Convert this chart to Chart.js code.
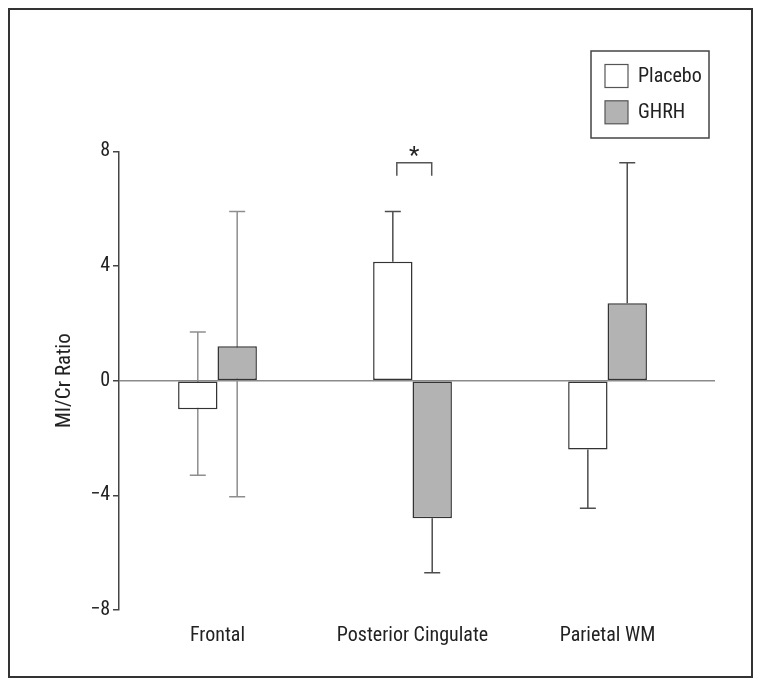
<!DOCTYPE html>
<html>
<head>
<meta charset="utf-8">
<script src="https://cdn.jsdelivr.net/npm/chart.js@4.4.1/dist/chart.umd.min.js"></script>
<style>
  html, body { margin: 0; padding: 0; background: #ffffff; }
  canvas { display: block; }
</style>
</head>
<body>
<canvas id="c" width="762" height="687"></canvas>
<script>
// ---- data ----
const categories = ['Frontal', 'Posterior Cingulate', 'Parietal WM'];
const seriesNames = ['Placebo', 'GHRH'];
const placeboMean = [-1.0, 4.15, -2.4];
const ghrhMean = [1.2, -4.8, 2.7];
// whisker ends (null = no whisker on that side)
const placeboErrHigh = [1.7, 5.9, null];
const placeboErrLow = [-3.3, null, -4.45];
const ghrhErrHigh = [5.9, null, 7.6];
const ghrhErrLow = [-4.05, -6.7, null];
const yTicks = [-8, -4, 0, 4, 8];
// significance bracket between the two Posterior Cingulate bars
const sigLabel = '*';
const sigCategory = 2;

const FONT = "'Liberation Sans Narrow', 'Roboto Condensed', 'Arial Narrow', 'Liberation Sans', sans-serif";
const TEXT = '#222222';
const fills = ['#ffffff', '#b3b3b3'];
const errHigh = [placeboErrHigh, ghrhErrHigh];
const errLow = [placeboErrLow, ghrhErrLow];

function fmtTick(v) { return v < 0 ? '\u2212' + Math.abs(v) : String(v); }

const errorBars = {
  id: 'errorBars',
  beforeDatasetsDraw(chart) {
    const ctx = chart.ctx;
    const y = chart.scales.y;
    ctx.save();
    chart.data.datasets.forEach((ds, di) => {
      const meta = chart.getDatasetMeta(di);
      meta.data.forEach((bar, i) => {
        const hi = errHigh[di][i], lo = errLow[di][i];
        if (hi === null && lo === null) return;
        const v = ds.data[i].y;
        const top = y.getPixelForValue(hi !== null ? hi : v);
        const bot = y.getPixelForValue(lo !== null ? lo : v);
        ctx.strokeStyle = i === 0 ? '#8e8e8e' : '#4d4d4d';
        ctx.lineWidth = 1.5;
        ctx.beginPath();
        ctx.moveTo(bar.x, top); ctx.lineTo(bar.x, bot);
        if (hi !== null) { ctx.moveTo(bar.x - 8, top); ctx.lineTo(bar.x + 8, top); }
        if (lo !== null) { ctx.moveTo(bar.x - 8, bot); ctx.lineTo(bar.x + 8, bot); }
        ctx.stroke();
      });
    });
    ctx.restore();
  }
};

const extras = {
  id: 'extras',
  afterDraw(chart) {
    const ctx = chart.ctx;
    const y = chart.scales.y;
    ctx.save();
    // significance bracket
    const m0 = chart.getDatasetMeta(0).data[sigCategory - 1];
    const m1 = chart.getDatasetMeta(1).data[sigCategory - 1];
    const x0 = m0.x + 4, x1 = m1.x - 0.5;
    const by = y.getPixelForValue(7.6), leg = y.getPixelForValue(7.15);
    ctx.strokeStyle = '#555';
    ctx.lineWidth = 1.5;
    ctx.beginPath();
    ctx.moveTo(x0, leg); ctx.lineTo(x0, by); ctx.lineTo(x1, by); ctx.lineTo(x1, leg);
    ctx.stroke();
    ctx.fillStyle = TEXT;
    ctx.font = '24px ' + FONT;
    ctx.textAlign = 'center';
    ctx.textBaseline = 'alphabetic';
    ctx.fillText(sigLabel, (x0 + x1) / 2, by + 0);

    // legend
    ctx.strokeStyle = '#444';
    ctx.lineWidth = 1.5;
    ctx.strokeRect(591, 51, 118, 87);
    seriesNames.forEach((name, k) => {
      const sy = 64.5 + k * 36.3;
      ctx.fillStyle = fills[k];
      ctx.fillRect(605, sy, 23, 23);
      ctx.strokeStyle = '#555';
      ctx.lineWidth = 1.2;
      ctx.strokeRect(605, sy, 23, 23);
      ctx.fillStyle = TEXT;
      ctx.font = '20px ' + FONT;
      ctx.textAlign = 'left';
      ctx.textBaseline = 'middle';
      ctx.fillText(name, 638, sy + 12);
    });

    // outer frame
    ctx.strokeStyle = '#333';
    ctx.lineWidth = 2;
    ctx.strokeRect(9, 9, 743, 668);
    ctx.restore();
  }
};

new Chart(document.getElementById('c'), {
  type: 'bar',
  data: {
    datasets: seriesNames.map((name, k) => ({
      label: name,
      data: (k === 0 ? placeboMean : ghrhMean).map((v, i) => ({ x: i + 1, y: v })),
      backgroundColor: fills[k],
      borderColor: '#333333',
      borderWidth: 1.5,
      borderSkipped: false,
      categoryPercentage: 0.404,
      barPercentage: 1.0
    }))
  },
  options: {
    responsive: false,
    devicePixelRatio: 1,
    animation: false,
    layout: { padding: { left: 0, right: 47, top: 151.4, bottom: 0 } },
    plugins: { legend: { display: false }, tooltip: { enabled: false } },
    scales: {
      x: {
        type: 'linear',
        offset: false,
        min: 0.495,
        max: 3.551,
        afterBuildTicks(scale) { scale.ticks = categories.map((c, i) => ({ value: i + 1 })); },
        afterFit(scale) { scale.height = 687 - 610; },
        grid: { display: false, drawTicks: false, offset: false },
        border: { display: false },
        ticks: {
          callback: (v) => categories[Math.round(v) - 1] || '',
          autoSkip: false,
          maxRotation: 0,
          padding: 14,
          color: TEXT,
          font: { family: FONT, size: 20 }
        }
      },
      y: {
        min: -8,
        max: 8,
        afterBuildTicks(scale) { scale.ticks = yTicks.map(v => ({ value: v })); },
        afterFit(scale) { scale.width = 119; },
        grid: {
          color: (c) => (c.tick && c.tick.value === 0 ? '#8a8a8a' : 'rgba(0,0,0,0)'),
          lineWidth: 1.5,
          tickColor: '#444',
          tickLength: 6
        },
        border: { display: true, color: '#444', width: 1.5 },
        ticks: {
          callback: (v) => fmtTick(v),
          padding: 3,
          color: TEXT,
          font: { family: FONT, size: 20 }
        },
        title: {
          display: true,
          text: 'MI/Cr Ratio',
          color: TEXT,
          font: { family: FONT, size: 21 },
          padding: { top: 52, bottom: 0 }
        }
      }
    }
  },
  plugins: [errorBars, extras]
});
</script>
</body>
</html>
